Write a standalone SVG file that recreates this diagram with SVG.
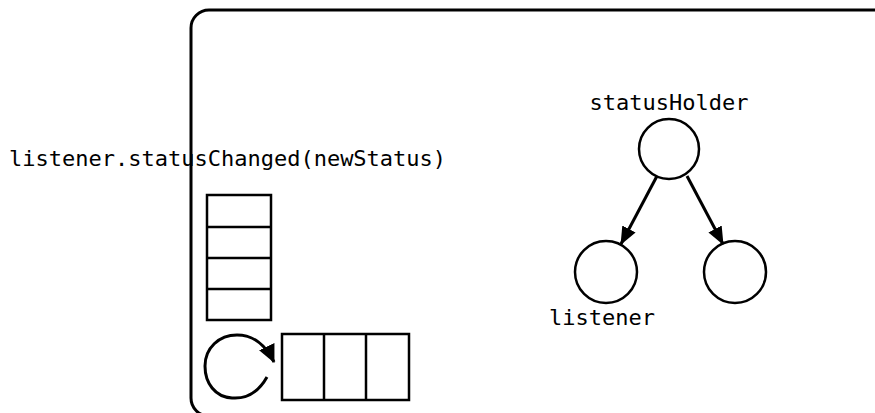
<svg xmlns="http://www.w3.org/2000/svg" width="875" height="413" viewBox="0 0 875 413">
<style>
text{font-family:"DejaVu Sans Mono","Liberation Mono",monospace;font-size:22px;fill:#000}
.s{fill:#fff;stroke:#000;stroke-width:2.5}
.c{fill:none;stroke:#000;stroke-width:3}
</style>
<defs>
<marker id="ah" markerWidth="18" markerHeight="15" refX="17" refY="7.5" orient="auto" markerUnits="userSpaceOnUse">
<path d="M0,0 L18,7.5 L0,15 Z" fill="#000"/>
</marker>
<marker id="ahl" markerWidth="18" markerHeight="17" refX="17" refY="8.5" orient="auto" markerUnits="userSpaceOnUse">
<path d="M0,0 L18,8.5 L0,17 Z" fill="#000"/>
</marker>
</defs>
<text id="call-label" x="9" y="166">listener.statusChanged(newStatus)</text>
<g id="frame"><rect x="191" y="10" width="720" height="406" rx="18" fill="none" stroke="#000" stroke-width="3"/></g>
<g id="stack">
<rect class="s" x="207" y="195" width="64" height="125"/>
<line class="s" x1="207" y1="227" x2="271" y2="227"/>
<line class="s" x1="207" y1="258" x2="271" y2="258"/>
<line class="s" x1="207" y1="289" x2="271" y2="289"/>
</g>
<g id="queue">
<rect class="s" x="282" y="334" width="127" height="66"/>
<line class="s" x1="324" y1="334" x2="324" y2="400"/>
<line class="s" x1="366" y1="334" x2="366" y2="400"/>
</g>
<g id="loop">
<path class="c" d="M267,377 C258,393 245,399 232,398 C215,397 205,383 205,366 C205,348 219,335 237,335 C253,335 266,345 274,362" marker-end="url(#ahl)"/>
</g>
<g id="statusHolder">
<text x="669" y="110" text-anchor="middle">statusHolder</text>
<circle class="s" cx="669" cy="149" r="30"/>
</g>
<g id="listener">
<circle class="s" cx="606" cy="272" r="31"/>
<text x="549" y="325">listener</text>
</g>
<g id="listener2">
<circle class="s" cx="735" cy="272" r="31"/>
</g>
<g id="connectors">
<line class="c" x1="657" y1="176" x2="621" y2="244" marker-end="url(#ah)"/>
<line class="c" x1="687" y1="176" x2="723" y2="244" marker-end="url(#ah)"/>
</g>
</svg>
